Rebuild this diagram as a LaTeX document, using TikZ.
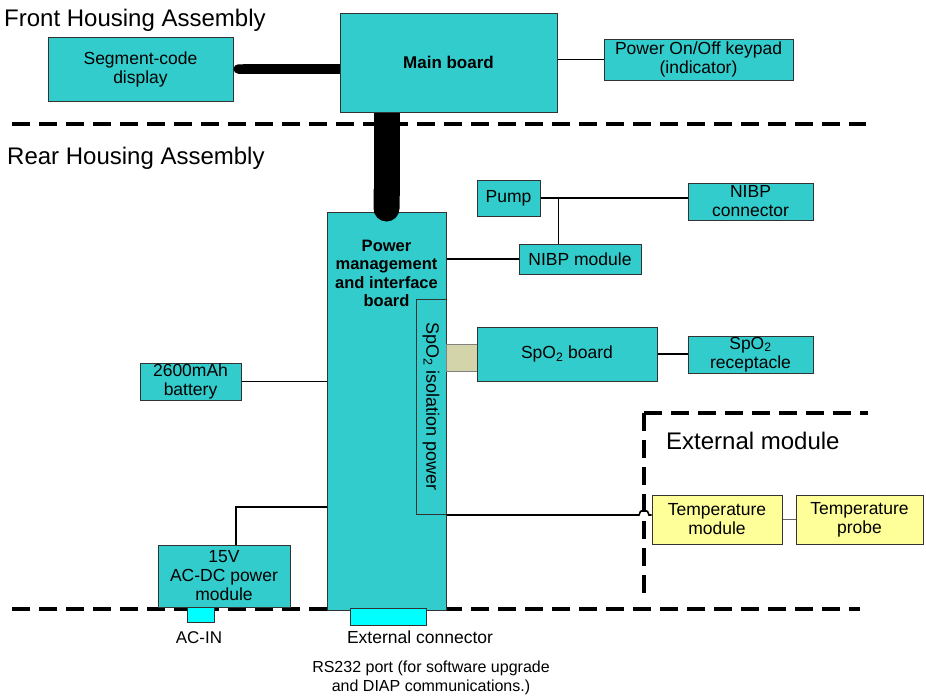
\documentclass[tikz,border=0pt]{standalone}
\usepackage{fontspec}
\setmainfont{Liberation Sans}
\usetikzlibrary{positioning}
\usetikzlibrary{calc}
\usetikzlibrary{arrows.meta}
\definecolor{boardfill}{RGB}{51,204,204}
\definecolor{modulefill}{RGB}{255,255,153}
\definecolor{isofill}{RGB}{212,212,170}
\definecolor{portfill}{RGB}{0,255,255}
\newcommand{\boxfont}{\fontsize{17.5}{19}\selectfont}
\tikzset{
    % Turquoise block for the boards and modules in the housing
    board/.style={
        draw=black!80, line width=1pt, fill=boardfill,
        inner sep=0pt, align=center, font=\boxfont},
%
    % Yellow block for the parts outside the housing
    ext block/.style={board, fill=modulefill},
%
    % Small connector body sitting on the housing split
    port/.style={draw=black!80, line width=1pt, fill=portfill, inner sep=0pt},
%
    % Plain signal wire between blocks
    wire/.style={line width=1.6pt},
%
    % Heavy board-to-board cable
    cable/.style={line width=#1, line cap=butt},
%
    % Dashed line marking where a housing ends
    split line/.style={line width=3.5pt, dash pattern=on 18pt off 9pt},
%
    % Big section heading
    heading/.style={anchor=west, inner sep=0pt,
        font=\fontsize{24}{28}\selectfont}}

\begin{document}
\begin{tikzpicture}[x=1pt, y=-1pt]
\useasboundingbox (0,0) rectangle (926,696);

\tikzset{
    bold text/.style={font=\fontsize{16.5}{18.5}\selectfont\bfseries, align=center},
    note/.style={font=\fontsize{16}{19}\selectfont, align=center}}

% housing splits
\draw[split line] (12,124) -- (866,124);
\draw[split line] (12,609) -- (860,609);

% front housing
\node (fronttitle) [heading] at (4,20) {Front Housing Assembly};
\node (segment) [board, minimum width=185pt, minimum height=64pt]
    at (140.5,69) {Segment-code\\display};
\node (main) [board, font=\fontsize{17}{19}\selectfont\bfseries,
        minimum width=217pt, minimum height=99pt]
    at (448.5,62.5) {Main board};
\node (keypad) [board, minimum width=189pt, minimum height=41pt]
    at (698.5,59.5) {Power On/Off keypad\\(indicator)};
\draw[wire] (main.east |- keypad.west) -- (keypad.west);

% rear housing
\node (reartitle) [heading] at (7,158) {Rear Housing Assembly};
\node (power) [board, minimum width=119pt, minimum height=398pt]
    at (386.5,411) {};
\node (powertitle) [bold text] at ($(power.north)+(0,62)$)
    {Power\\management\\and interface\\board};
\node (iso) [board, rotate=-90, font=\fontsize{18}{19}\selectfont,
        minimum width=215pt, minimum height=30pt]
    at (431,406.5) {SpO\textsubscript{2} isolation power};
\node (bridge) [draw=black!50, fill=isofill, inner sep=0pt,
        minimum width=31pt, minimum height=27pt] at (461.5,357.5) {};

\draw[cable=9.5pt, {Round Cap}-] (segment.east) -- (segment.east -| main.west);
\draw[cable=26pt, -{Round Cap}] (main.south -| power.north)
    -- ($(power.north)+(0,10)$);

% NIBP
\node (pump) [board, minimum width=63pt, minimum height=36pt]
    at (508.5,198) {Pump};
\node (nibpconn) [board, minimum width=125pt, minimum height=37pt]
    at (750.5,201.5) {NIBP\\connector};
\node (nibp) [board, minimum width=122pt, minimum height=30pt]
    at (580,259) {NIBP module};
\coordinate (tee) at ($(pump.east)+(18,0)$);
\draw[wire] (pump.east) -- (pump.east -| nibpconn.west);
\draw[wire] (tee) -- (tee |- nibp.north);
\draw[wire] (nibp.west) -- (nibp.west -| power.east);

% SpO2
\node (spo2) [board, minimum width=180pt, minimum height=54pt]
    at (567,354) {SpO\textsubscript{2} board};
\node (receptacle) [board, minimum width=125pt, minimum height=37pt]
    at (750.5,354.5) {SpO\textsubscript{2}\\receptacle};
\draw[wire] (spo2.east) -- (spo2.east -| receptacle.west);

% supply
\node (battery) [board, minimum width=101pt, minimum height=37pt]
    at (190.5,381.5) {2600mAh\\battery};
\draw[wire] (battery.east) -- (battery.east -| power.west);
\node (acdc) [board, minimum width=132pt, minimum height=62pt]
    at (224,576) {15V\\AC-DC power\\module};
\draw[wire] ($(acdc.north)+(12,0)$) |- ($(power.west)+(0,96)$);

% ports
\node (acin) [port, minimum width=27pt, minimum height=15pt]
    at (200.5,614.5) {};
\node (acinlabel) [note, font=\fontsize{17}{19}\selectfont] at (199,638) {AC-IN};
\node (extport) [port, minimum width=76pt, minimum height=17pt]
    at (388,616.5) {};
\node (extlabel) [note, font=\fontsize{17.5}{19}\selectfont] at (420,637)
    {External connector};
\node (rslabel) [note] at (431,677.5)
    {RS232 port (for software upgrade\\and DIAP communications.)};

% external module
\coordinate (extcorner) at (644,413);
\draw[split line] (extcorner) -- ++(224,0);
\draw[split line] (extcorner) -- ++(0,180);
\node (exttitle) [heading] at (666,441) {External module};
\node (temp) [ext block, minimum width=130pt, minimum height=49pt]
    at (717,519.5) {Temperature\\module};
\node (probe) [ext block, minimum width=127pt, minimum height=49pt]
    at (859.5,519.5) {Temperature\\probe};
\draw[black!60, line width=1pt] (temp.east) -- (probe.west);
\coordinate (isoout) at ($(power.east)+(0,104)$);
\draw[wire] (isoout) -- ($(isoout -| extcorner)+(-5,0)$)
    arc[start angle=180, end angle=360, radius=5]
    -- (isoout -| temp.west);

\end{tikzpicture}
\end{document}
